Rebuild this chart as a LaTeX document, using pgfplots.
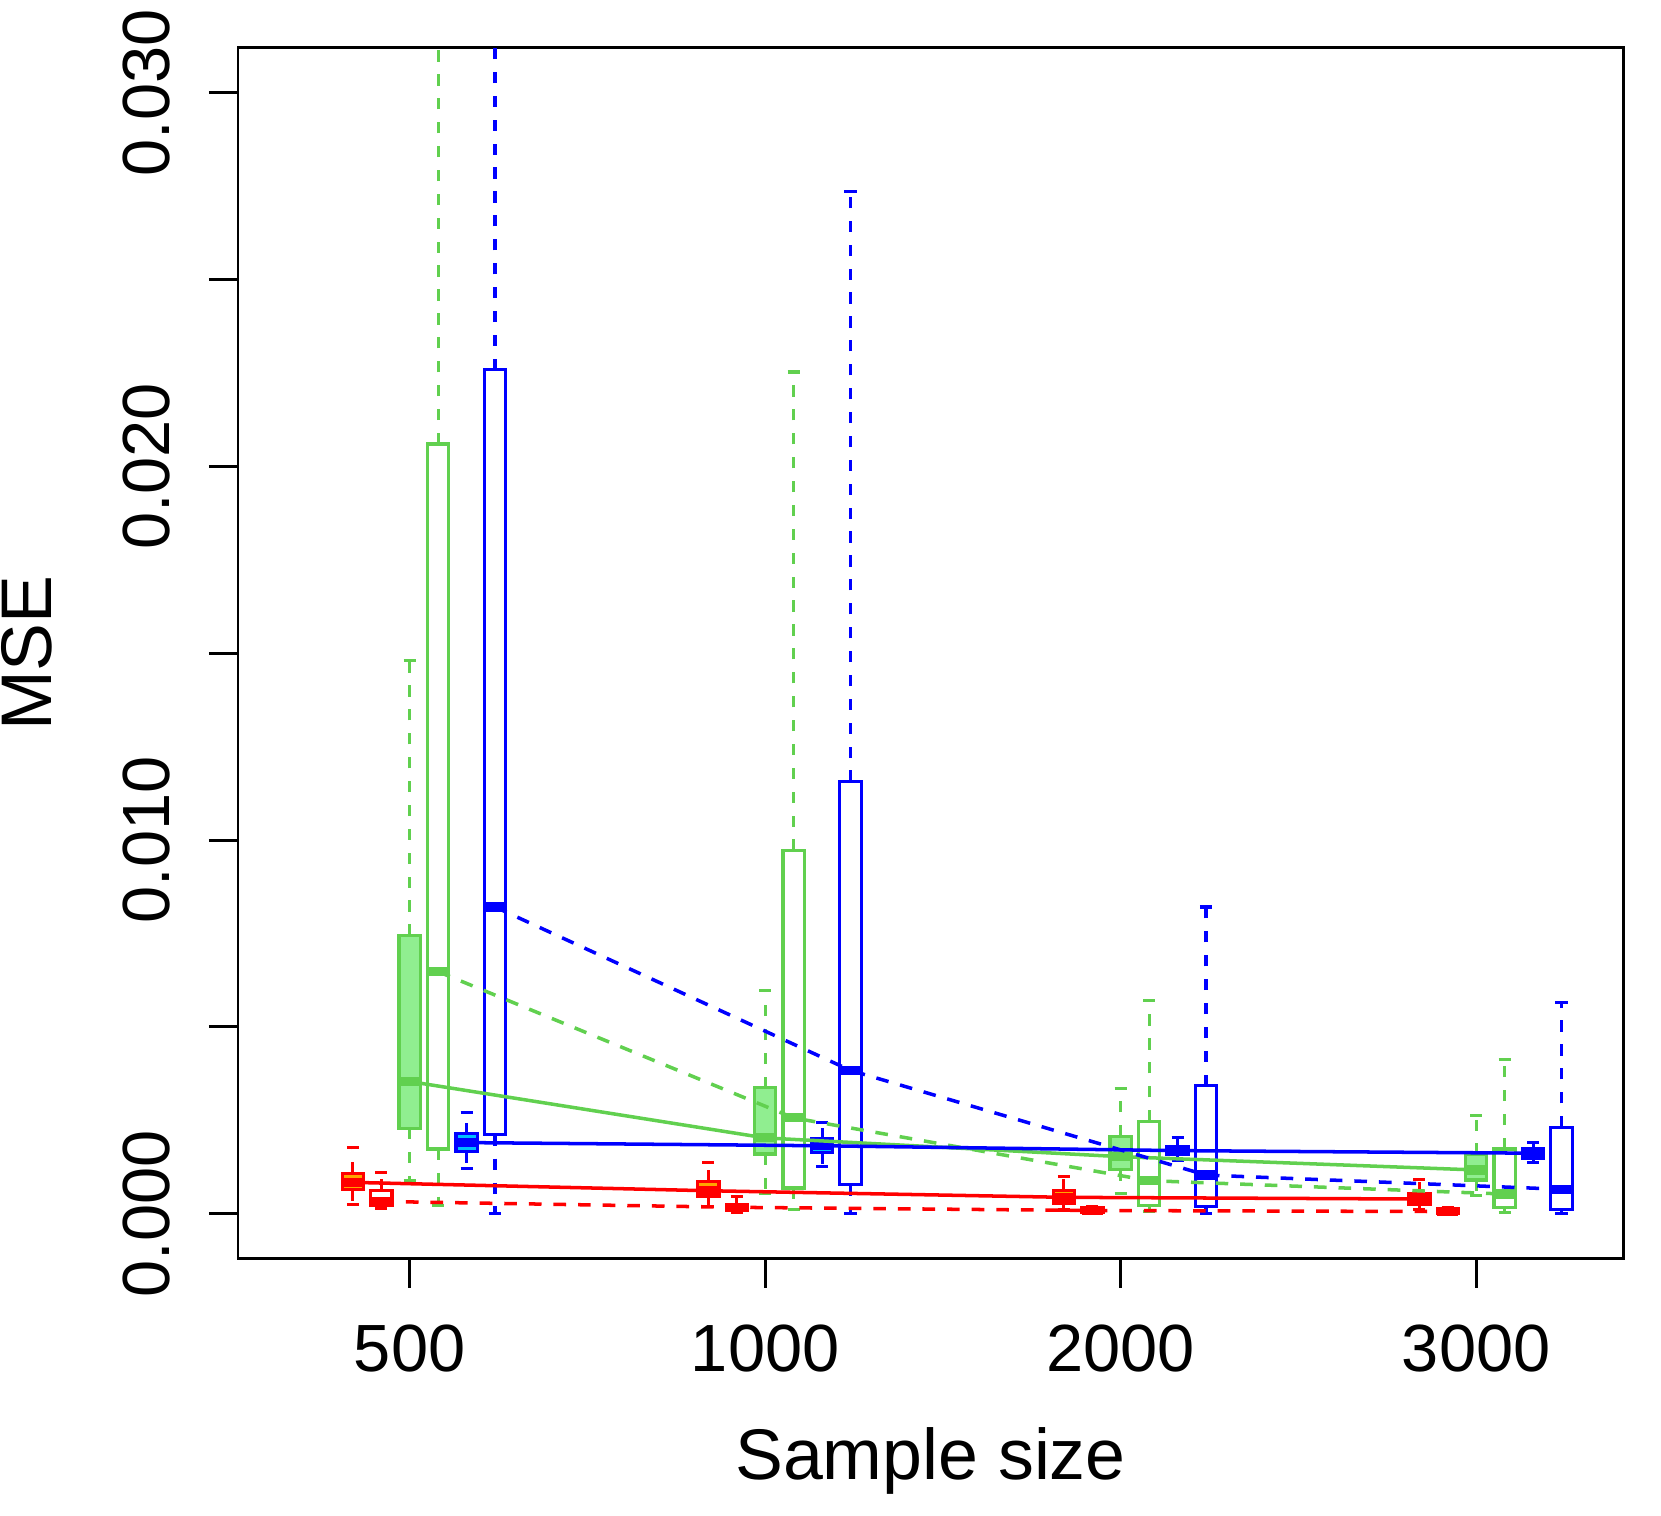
\documentclass[border=0pt]{standalone}
\usepackage{fontspec}
\setmainfont{Liberation Sans}
\usepackage{pgfplots}
\pgfplotsset{compat=1.18}
\usepgfplotslibrary{statistics}
\usetikzlibrary{calc}

\definecolor{rred}{RGB}{255,0,0}
\definecolor{rgreen}{HTML}{61D04F}
\definecolor{rblue}{RGB}{0,0,255}
\definecolor{fillred}{HTML}{FFA500}
\definecolor{fillgreen}{HTML}{90EE90}
\definecolor{fillblue}{HTML}{00BFFF}

\pgfplotsset{
  boxplot/draw/lower whisker/.code={%
    \draw[/pgfplots/boxplot/every whisker/.try, dash pattern=on 3.2pt off 3.6pt]
      (boxplot box cs:\pgfplotsboxplotvalue{lower quartile},0.5) --
      (boxplot box cs:\pgfplotsboxplotvalue{lower whisker},0.5);
    \draw[/pgfplots/boxplot/every whisker/.try]
      (boxplot whisker cs:\pgfplotsboxplotvalue{lower whisker},0) --
      (boxplot whisker cs:\pgfplotsboxplotvalue{lower whisker},1);
  },
  boxplot/draw/upper whisker/.code={%
    \draw[/pgfplots/boxplot/every whisker/.try, dash pattern=on 3.2pt off 3.6pt]
      (boxplot box cs:\pgfplotsboxplotvalue{upper quartile},0.5) --
      (boxplot box cs:\pgfplotsboxplotvalue{upper whisker},0.5);
    \draw[/pgfplots/boxplot/every whisker/.try]
      (boxplot whisker cs:\pgfplotsboxplotvalue{upper whisker},0) --
      (boxplot whisker cs:\pgfplotsboxplotvalue{upper whisker},1);
  },
  rstyle/.style 2 args={
    boxplot/every box/.style={draw=#1, fill=#2, line width=0.9pt},
    boxplot/every median/.style={draw=#1, line width=2.6pt},
    boxplot/every whisker/.style={draw=#1, line width=0.9pt},
  },
  trend/.style={line width=1pt},
  trenddash/.style={line width=1pt, dash pattern=on 3.6pt off 3.4pt},
}

% MSE values in units of 1e-3
% color, fill, position, lower whisker, q1, median, q3, upper whisker
\newcommand{\rbox}[8]{%
  \addplot[#1, rstyle={#1}{#2}, boxplot prepared={draw position=#3,
    lower whisker=#4, lower quartile=#5, median=#6,
    upper quartile=#7, upper whisker=#8}] coordinates {};
}

\begin{document}
\begin{tikzpicture}
\begin{axis}[
    name=ax,
    scale only axis,
    width=138.5mm, height=121.05mm,
    xmin=0.517, xmax=4.413,
    ymin=-1.2, ymax=31.2,
    axis line style={line width=0.85pt},
    xtick={1,2,3,4},
    xticklabels={500,1000,2000,3000},
    ytick={0,5,10,15,20,25,30},
    yticklabels={0.000,,0.010,,0.020,,0.030},
    tick pos=left,
    tick align=outside,
    major tick length=2.9mm,
    tick style={line width=0.85pt, black},
    ticklabel style={font=\fontsize{19}{19}\selectfont},
    xticklabel style={anchor=north, inner sep=0pt},
    yticklabel style={rotate=90, anchor=south, inner sep=0pt},
    xticklabel shift=3.65mm,
    yticklabel shift=3.8mm,
    boxplot/draw direction=y,
    boxplot/box extend=0.06,
    boxplot/whisker extend=0.034,
    xlabel={Sample size},
    ylabel={MSE},
    label style={font=\fontsize{20.4}{20.4}\selectfont},
    xlabel style={at={(axis description cs:0.5,0)}, anchor=base, inner sep=0pt, yshift=-22.05mm},
    ylabel style={at={(axis description cs:-0.1336,0.5)}, anchor=south, inner sep=0pt},
]
% sample size 500
\rbox{rred}{fillred}{0.84}{0.256}{0.653}{0.838}{1.080}{1.761}
\rbox{rred}{white}{0.92}{0.128}{0.213}{0.327}{0.625}{1.108}
\rbox{rgreen}{fillgreen}{1.00}{0.881}{2.287}{3.537}{7.443}{14.800}
\rbox{rgreen}{white}{1.08}{0.213}{1.733}{6.477}{20.600}{40.000}
\rbox{rblue}{fillblue}{1.16}{1.205}{1.668}{1.903}{2.139}{2.699}
\rbox{rblue}{white}{1.24}{0.000}{2.114}{8.210}{22.585}{45.000}
% sample size 1000
\rbox{rred}{fillred}{1.84}{0.199}{0.463}{0.614}{0.866}{1.364}
\rbox{rred}{white}{1.92}{0.043}{0.085}{0.170}{0.256}{0.455}
\rbox{rgreen}{fillgreen}{2.00}{0.540}{1.599}{2.028}{3.369}{5.966}
\rbox{rgreen}{white}{2.08}{0.114}{0.688}{2.563}{9.716}{22.528}
\rbox{rblue}{fillblue}{2.16}{1.267}{1.642}{1.818}{2.000}{2.446}
\rbox{rblue}{white}{2.24}{0.000}{0.776}{3.835}{11.563}{27.358}
% sample size 2000
\rbox{rred}{fillred}{2.84}{0.097}{0.284}{0.438}{0.614}{0.994}
\rbox{rred}{white}{2.92}{0.000}{0.028}{0.085}{0.170}{0.199}
\rbox{rgreen}{fillgreen}{3.00}{0.551}{1.179}{1.526}{2.074}{3.341}
\rbox{rgreen}{white}{3.08}{0.051}{0.213}{0.884}{2.474}{5.710}
\rbox{rblue}{fillblue}{3.16}{1.420}{1.580}{1.688}{1.795}{2.045}
\rbox{rblue}{white}{3.24}{0.000}{0.185}{1.034}{3.423}{8.210}
% sample size 3000
\rbox{rred}{fillred}{3.84}{0.122}{0.256}{0.392}{0.551}{0.926}
\rbox{rred}{white}{3.92}{0.000}{0.014}{0.057}{0.128}{0.150}
\rbox{rgreen}{fillgreen}{4.00}{0.483}{0.901}{1.170}{1.580}{2.625}
\rbox{rgreen}{white}{4.08}{0.034}{0.170}{0.526}{1.733}{4.119}
\rbox{rblue}{fillblue}{4.16}{1.375}{1.491}{1.619}{1.733}{1.912}
\rbox{rblue}{white}{4.24}{0.000}{0.122}{0.653}{2.313}{5.653}

% median trend lines
\addplot[rred, trend] coordinates {(0.84,0.838) (1.84,0.614) (2.84,0.438) (3.84,0.392)};
\addplot[rred, trenddash] coordinates {(0.92,0.327) (1.92,0.170) (2.92,0.085) (3.92,0.057)};
\addplot[rgreen, trend] coordinates {(1.00,3.537) (2.00,2.028) (3.00,1.526) (4.00,1.170)};
\addplot[rgreen, trenddash] coordinates {(1.08,6.477) (2.08,2.563) (3.08,0.884) (4.08,0.526)};
\addplot[rblue, trend] coordinates {(1.16,1.903) (2.16,1.818) (3.16,1.688) (4.16,1.619)};
\addplot[rblue, trenddash] coordinates {(1.24,8.210) (2.24,3.835) (3.24,1.034) (4.24,0.653)};
\end{axis}
\pgfresetboundingbox
\path[use as bounding box] ($(ax.south west)+(-23.8mm,-25.65mm)$) rectangle ($(ax.north east)+(3.8mm,4.8mm)$);
\end{tikzpicture}
\end{document}
